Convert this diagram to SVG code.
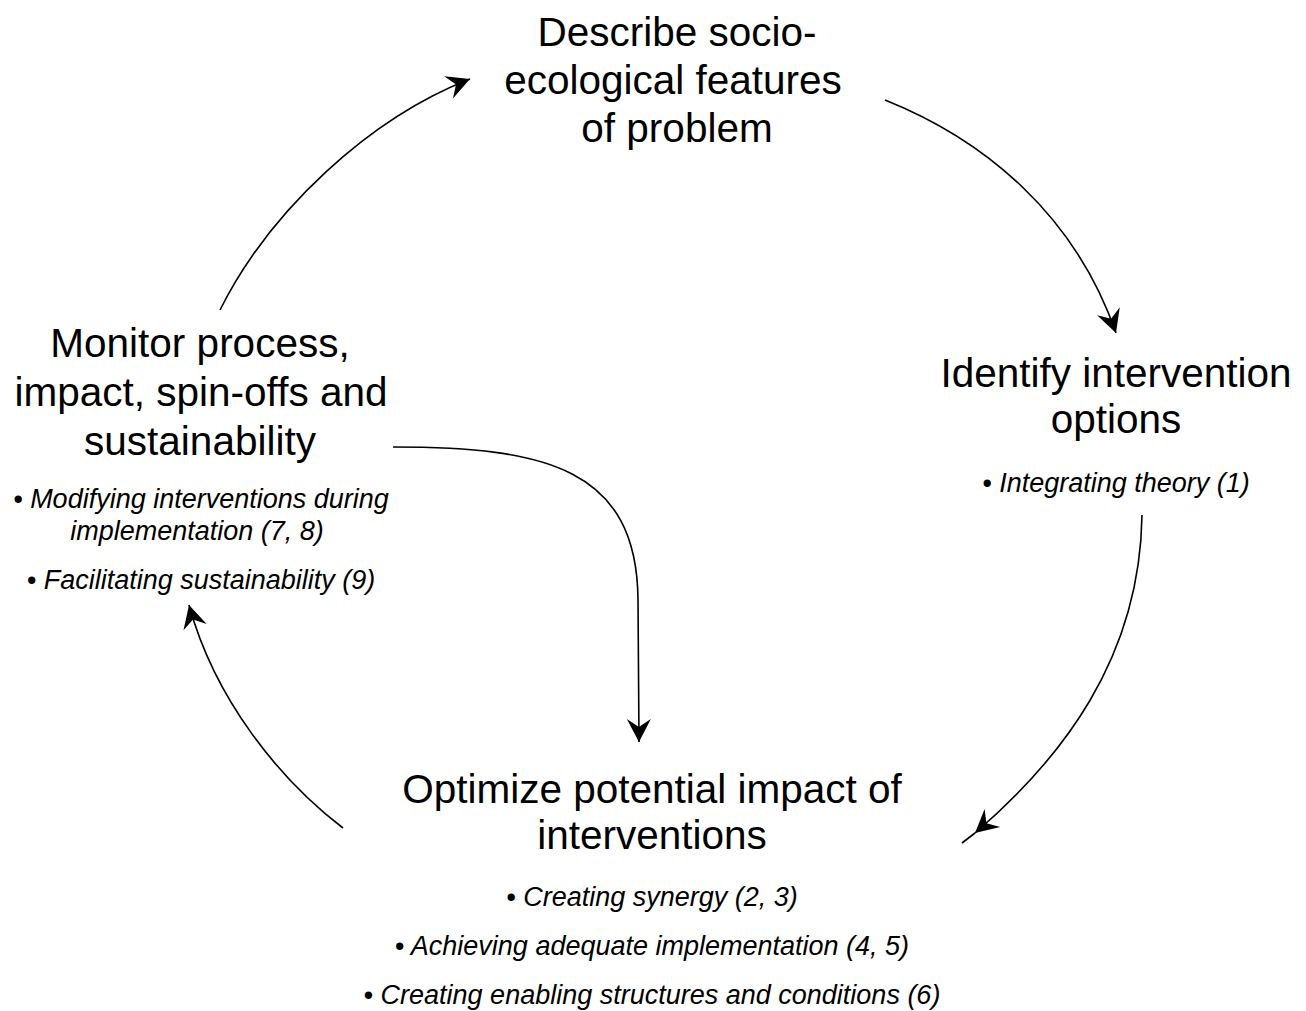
<svg xmlns="http://www.w3.org/2000/svg" width="1306" height="1011" viewBox="0 0 1306 1011">
<style>
.t{font-family:"Liberation Sans",Arial,Helvetica,sans-serif;font-size:40.5px;fill:#000;text-anchor:middle}
.b{font-family:"Liberation Sans",Arial,Helvetica,sans-serif;font-size:27px;font-style:italic;fill:#000;text-anchor:middle}
.c{fill:none;stroke:#000;stroke-width:1.6}
</style>
<defs>
<marker id="arr" viewBox="-25 -14 27 28" refX="0" refY="0" markerWidth="27" markerHeight="28" markerUnits="userSpaceOnUse" orient="auto">
<path d="M0,0 L-23,-12 L-15,0 L-23,12 Z" fill="#000"/>
</marker>
</defs>
<rect width="1306" height="1011" fill="#fff"/>
<g id="connectors">
<path class="c" d="M220,310 C270,210 370,118 470,79" marker-end="url(#arr)"/>
<path class="c" d="M885,100 C985,140 1075,215 1116,333" marker-end="url(#arr)"/>
<path class="c" d="M1142,515 C1140,660 1060,760 975,833" marker-end="url(#arr)"/>
<path class="c" d="M975,833 L962,843"/>
<path class="c" d="M343,828 C280,780 215,700 189,605" marker-end="url(#arr)"/>
<path class="c" d="M393,447 C545,447 637,468 638,600 L639,742" marker-end="url(#arr)"/>
</g>
<g id="node-describe">
<text class="t" x="677" y="46">Describe socio-</text>
<text class="t" x="673" y="94">ecological features</text>
<text class="t" x="677" y="142">of problem</text>
</g>
<g id="node-identify">
<text class="t" x="1116" y="387">Identify intervention</text>
<text class="t" x="1116" y="433">options</text>
<text class="b" x="1116" y="492">• Integrating theory (1)</text>
</g>
<g id="node-optimize">
<text class="t" x="652" y="803">Optimize potential impact of</text>
<text class="t" x="652" y="849">interventions</text>
<text class="b" x="652" y="906">• Creating synergy (2, 3)</text>
<text class="b" x="652" y="955">• Achieving adequate implementation (4, 5)</text>
<text class="b" x="652" y="1004">• Creating enabling structures and conditions (6)</text>
</g>
<g id="node-monitor">
<text class="t" x="200" y="357">Monitor process,</text>
<text class="t" x="201" y="406">impact, spin-offs and</text>
<text class="t" x="200" y="455">sustainability</text>
<text class="b" x="201" y="508">• Modifying interventions during</text>
<text class="b" x="197" y="540">implementation (7, 8)</text>
<text class="b" x="201" y="589">• Facilitating sustainability (9)</text>
</g>
</svg>
